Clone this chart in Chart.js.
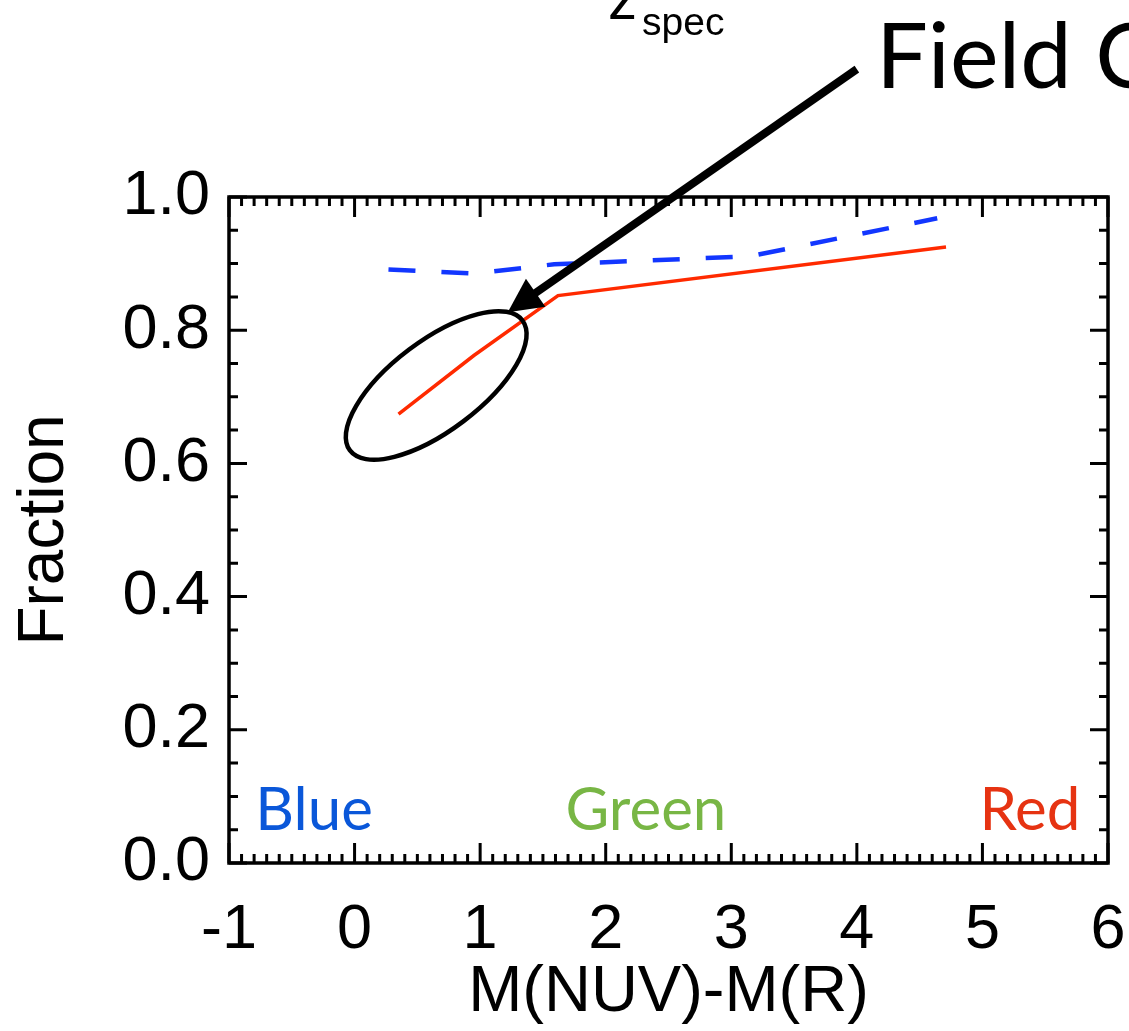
<!DOCTYPE html>
<html>
<head>
<meta charset="utf-8">
<script src="https://cdn.jsdelivr.net/npm/chart.js@4.4.1/dist/chart.umd.min.js"></script>
<style>
  html, body { margin: 0; padding: 0; background: #fff; }
  #wrap { width: 1129px; height: 1031px; }
</style>
</head>
<body>
<div id="wrap"><canvas id="chart" width="1129" height="1031"></canvas></div>
<script>
// Fraction vs M(NUV)-M(R)
const blueX = [0.27, 0.96, 1.59, 3.15, 4.64];
const blueY = [0.891, 0.885, 0.899, 0.911, 0.968];
const redX = [0.35, 0.95, 1.62, 4.71];
const redY = [0.674, 0.762, 0.852, 0.925];

const xTicks = [-1, 0, 1, 2, 3, 4, 5, 6];
const yTicks = [0.0, 0.2, 0.4, 0.6, 0.8, 1.0];

const regionNames = ['Blue', 'Green', 'Red'];
const regionX = [-0.79, 2.32, 5.78];
const regionColors = ['#0a57d9', '#78b645', '#e63312'];

// annotation anchors in data units
const ellipseCenter = { x: 0.65, y: 0.717 };
const arrowFrom = { x: 4.0, y: 1.192 };
const arrowTo = { x: 1.22, y: 0.827 };

const toPoints = (xs, ys) => xs.map((x, i) => ({ x, y: ys[i] }));

// IDL style frame: box on all four sides, ticks pointing inward, minor ticks
const frameTicks = {
  id: 'frameTicks',
  afterDatasetsDraw(chart) {
    const { ctx, chartArea: a, scales: { x, y } } = chart;
    ctx.save();
    ctx.strokeStyle = '#000';
    ctx.lineWidth = 3.5;
    ctx.strokeRect(a.left, a.top, a.right - a.left, a.bottom - a.top);
    ctx.lineWidth = 3;
    ctx.beginPath();
    for (let i = 0; i <= 70; i++) {
      const v = -1 + i * 0.1;
      const px = x.getPixelForValue(v);
      const len = i % 10 === 0 ? 20 : 9;
      ctx.moveTo(px, a.bottom); ctx.lineTo(px, a.bottom - len);
      ctx.moveTo(px, a.top); ctx.lineTo(px, a.top + len);
    }
    for (let i = 0; i <= 20; i++) {
      const py = y.getPixelForValue(i * 0.05);
      const len = i % 4 === 0 ? 18 : 9;
      ctx.moveTo(a.left, py); ctx.lineTo(a.left + len, py);
      ctx.moveTo(a.right, py); ctx.lineTo(a.right - len, py);
    }
    ctx.stroke();
    ctx.restore();
  }
};

const notes = {
  id: 'notes',
  afterDraw(chart) {
    const { ctx, scales: { x, y } } = chart;
    ctx.save();

    // colour region names
    ctx.textBaseline = 'alphabetic';
    ctx.font = '60px Lato';
    const aligns = ['left', 'center', 'right'];
    regionNames.forEach((name, i) => {
      ctx.fillStyle = regionColors[i];
      ctx.textAlign = aligns[i];
      ctx.fillText(name, x.getPixelForValue(regionX[i]), y.getPixelForValue(0.05));
    });

    // ellipse around the low end of the red curve
    ctx.strokeStyle = '#000';
    ctx.lineWidth = 4.5;
    ctx.beginPath();
    ctx.ellipse(x.getPixelForValue(ellipseCenter.x), y.getPixelForValue(ellipseCenter.y),
      108, 45, -37 * Math.PI / 180, 0, Math.PI * 2);
    ctx.stroke();

    // arrow from the "Field C" label
    const x0 = x.getPixelForValue(arrowFrom.x), y0 = y.getPixelForValue(arrowFrom.y);
    const x1 = x.getPixelForValue(arrowTo.x), y1 = y.getPixelForValue(arrowTo.y);
    const ang = Math.atan2(y1 - y0, x1 - x0);
    const headLen = 34, headHalf = 17;
    const bx = x1 - headLen * Math.cos(ang), by = y1 - headLen * Math.sin(ang);
    ctx.lineWidth = 8;
    ctx.beginPath();
    ctx.moveTo(x0, y0);
    ctx.lineTo(bx + 6 * Math.cos(ang), by + 6 * Math.sin(ang));
    ctx.stroke();
    ctx.fillStyle = '#000';
    ctx.beginPath();
    ctx.moveTo(x1, y1);
    ctx.lineTo(bx - headHalf * Math.sin(ang), by + headHalf * Math.cos(ang));
    ctx.lineTo(bx + headHalf * Math.sin(ang), by - headHalf * Math.cos(ang));
    ctx.closePath();
    ctx.fill();

    ctx.fillStyle = '#000';
    ctx.textAlign = 'left';
    ctx.font = '92px Lato';
    ctx.fillText('Field C', 876, 88);

    // z_spec, cut off at the top edge
    ctx.font = '58px "Liberation Sans"';
    ctx.fillText('z', 608, 19);
    ctx.font = '39px "Liberation Sans"';
    ctx.fillText('spec', 642, 35);
    ctx.restore();
  }
};

new Chart(document.getElementById('chart'), {
  type: 'scatter',
  data: {
    datasets: [
      {
        label: 'Blue',
        data: toPoints(blueX, blueY),
        showLine: true,
        borderColor: '#1236ff',
        borderWidth: 4.5,
        borderDash: [27, 26],
        pointRadius: 0,
        tension: 0,
      },
      {
        label: 'Red',
        data: toPoints(redX, redY),
        showLine: true,
        borderColor: '#ff2a00',
        borderWidth: 3.5,
        pointRadius: 0,
        tension: 0,
      },
    ]
  },
  options: {
    responsive: false,
    animation: false,
    layout: { padding: { top: 197, right: 21, left: 0, bottom: 0 } },
    plugins: { legend: { display: false }, tooltip: { enabled: false } },
    scales: {
      x: {
        type: 'linear',
        min: -1,
        max: 6,
        afterFit(scale) {
          scale.height = 168;
          scale.paddingLeft = 0;
          scale.paddingRight = 0;
        },
        afterBuildTicks(scale) { scale.ticks = xTicks.map((v) => ({ value: v })); },
        grid: { display: false, drawTicks: false },
        border: { display: false },
        ticks: {
          padding: 30,
          color: '#000',
          font: { family: 'Liberation Sans', size: 63 },
          callback: (v) => String(v),
        },
        title: {
          display: true,
          text: 'M(NUV)-M(R)',
          color: '#000',
          font: { family: 'Liberation Sans', size: 65, lineHeight: 1.2 },
          padding: { top: 0, bottom: -1 },
        },
      },
      y: {
        type: 'linear',
        min: 0,
        max: 1,
        afterFit(scale) {
          scale.width = 229;
          scale.paddingTop = 0;
          scale.paddingBottom = 0;
        },
        afterBuildTicks(scale) { scale.ticks = yTicks.map((v) => ({ value: v })); },
        grid: { display: false, drawTicks: false },
        border: { display: false },
        ticks: {
          padding: 19,
          color: '#000',
          font: { family: 'Liberation Sans', size: 63 },
          callback: (v) => Number(v).toFixed(1),
        },
        title: {
          display: true,
          text: 'Fraction',
          color: '#000',
          font: { family: 'Liberation Sans', size: 64, lineHeight: 1.2 },
          padding: { top: 7, bottom: 0 },
        },
      },
    },
  },
  plugins: [frameTicks, notes],
});
</script>
</body>
</html>
